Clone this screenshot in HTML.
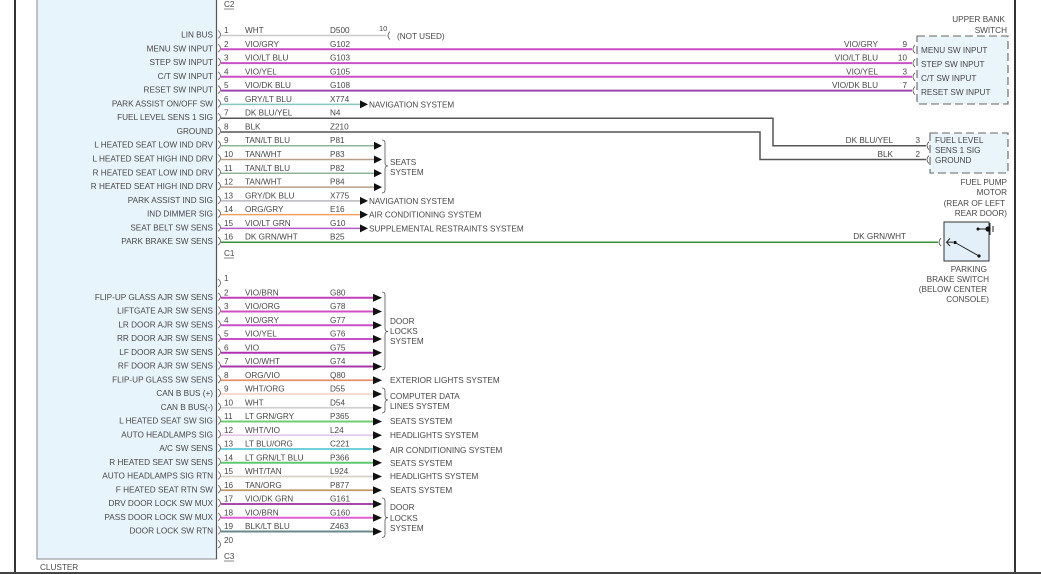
<!DOCTYPE html>
<html><head><meta charset="utf-8"><style>
html,body{margin:0;padding:0;background:#fff;}
svg{display:block;}
text{font-family:"Liberation Sans",Arial,sans-serif;font-size:8.2px;fill:#484848;}
.r{text-anchor:end;}
.w{fill:none;}
</style></head><body>
<svg width="1041" height="574" viewBox="0 0 1041 574" xmlns="http://www.w3.org/2000/svg">
<!-- page frame -->
<rect x="14" y="0" width="2" height="574" fill="#333"/>
<rect x="1014" y="0" width="2" height="574" fill="#333"/>
<rect x="0" y="572" width="1041" height="2" fill="#444"/>
<!-- cluster box -->
<rect x="37" y="-2" width="179.5" height="561" fill="#e8f4fc" stroke="#8a8a8a" stroke-width="1"/>
<line x1="216.5" y1="0" x2="216.5" y2="559" stroke="#555" stroke-width="1.2"/>
<text x="40" y="570">CLUSTER</text>
<text x="224" y="7">C2</text><line x1="224" y1="9" x2="234" y2="9" stroke="#555" stroke-width="0.7"/>
<text x="224" y="256">C1</text><line x1="224" y1="258" x2="234" y2="258" stroke="#555" stroke-width="0.7"/>
<text x="224" y="559">C3</text><line x1="224" y1="561" x2="234" y2="561" stroke="#555" stroke-width="0.7"/>

<!-- TOP WIRES -->
<g class="w" stroke-linecap="butt">
<path d="M221,35.5H386" stroke="#c8c8c8" stroke-width="1.5"/>
<path d="M221,49.3H912" stroke="#c94fc6" stroke-width="2"/>
<path d="M221,63.1H912" stroke="#c94fc6" stroke-width="2"/>
<path d="M221,76.8H912" stroke="#c94fc6" stroke-width="2"/>
<path d="M221,90.6H912" stroke="#9b4aaa" stroke-width="2"/>
<path d="M221,104.4H360" stroke="#84c8c0" stroke-width="1.5"/>
<path d="M221,118.2H773V145.7H926" stroke="#555" stroke-width="1.5"/>
<path d="M221,132H760V159.5H926" stroke="#555" stroke-width="1.5"/>
<path d="M221,145.7H374" stroke="#8fb49a" stroke-width="1.5"/>
<path d="M221,159.5H374" stroke="#b8a088" stroke-width="1.5"/>
<path d="M221,173.3H374" stroke="#8fb49a" stroke-width="1.5"/>
<path d="M221,187.1H374" stroke="#b8a088" stroke-width="1.5"/>
<path d="M221,200.9H360" stroke="#b8b8c0" stroke-width="1.5"/>
<path d="M221,214.6H360" stroke="#f0a460" stroke-width="1.5"/>
<path d="M221,228.4H360" stroke="#b05cc0" stroke-width="1.5"/>
<path d="M221,242.2H938" stroke="#3c8c3c" stroke-width="1.5"/>
</g>
<!-- left connector marks top -->
<g class="w" stroke="#555" stroke-width="0.8">
<path d="M218,30.5Q223,34.5 218,38.5"/><path d="M218,44.3Q223,48.3 218,52.3"/><path d="M218,58.1Q223,62.1 218,66.1"/><path d="M218,71.8Q223,75.8 218,79.8"/><path d="M218,85.6Q223,89.6 218,93.6"/><path d="M218,99.4Q223,103.4 218,107.4"/><path d="M218,113.2Q223,117.2 218,121.2"/><path d="M218,127Q223,131 218,135"/><path d="M218,140.7Q223,144.7 218,148.7"/><path d="M218,154.5Q223,158.5 218,162.5"/><path d="M218,168.3Q223,172.3 218,176.3"/><path d="M218,182.1Q223,186.1 218,190.1"/><path d="M218,195.9Q223,199.9 218,203.9"/><path d="M218,209.6Q223,213.6 218,217.6"/><path d="M218,223.4Q223,227.4 218,231.4"/><path d="M218,237.2Q223,241.2 218,245.2"/>
<path d="M390,31.5Q386,35.5 390,39.5"/>
<path d="M915,45.3Q911,49.3 915,53.3"/><path d="M915,59.1Q911,63.1 915,67.1"/><path d="M915,72.8Q911,76.8 915,80.8"/><path d="M915,86.6Q911,90.6 915,94.6"/>
<path d="M929,141.7Q925,145.7 929,149.7"/><path d="M929,155.5Q925,159.5 929,163.5"/>
<path d="M941,238.2Q937,242.2 941,246.2"/>
</g>
<!-- top arrows -->
<g fill="#111">
<polygon points="360,100.4 368,104.4 360,108.4"/>
<polygon points="374,141.7 382,145.7 374,149.7"/>
<polygon points="374,155.5 382,159.5 374,163.5"/>
<polygon points="374,169.3 382,173.3 374,177.3"/>
<polygon points="374,183.1 382,187.1 374,191.1"/>
<polygon points="360,196.9 368,200.9 360,204.9"/>
<polygon points="360,210.6 368,214.6 360,218.6"/>
<polygon points="360,224.4 368,228.4 360,232.4"/>
</g>
<path class="w" stroke="#555" stroke-width="0.8" d="M382,140Q385,140 385,143L385,163Q385,166 388,166Q385,166 385,169L385,190Q385,193 382,193"/>

<!-- top left labels -->
<g class="r">
<text x="213" y="37.5">LIN BUS</text>
<text x="213" y="51.3">MENU SW INPUT</text>
<text x="213" y="65.1">STEP SW INPUT</text>
<text x="213" y="78.8">C/T SW INPUT</text>
<text x="213" y="92.6">RESET SW INPUT</text>
<text x="213" y="106.4">PARK ASSIST ON/OFF SW</text>
<text x="213" y="120.2">FUEL LEVEL SENS 1 SIG</text>
<text x="213" y="134">GROUND</text>
<text x="213" y="147.7">L HEATED SEAT LOW IND DRV</text>
<text x="213" y="161.5">L HEATED SEAT HIGH IND DRV</text>
<text x="213" y="175.3">R HEATED SEAT LOW IND DRV</text>
<text x="213" y="189.1">R HEATED SEAT HIGH IND DRV</text>
<text x="213" y="202.9">PARK ASSIST IND SIG</text>
<text x="213" y="216.6">IND DIMMER SIG</text>
<text x="213" y="230.4">SEAT BELT SW SENS</text>
<text x="213" y="244.2">PARK BRAKE SW SENS</text>
</g>
<!-- top pin numbers / colors / ids -->
<g>
<text x="224" y="33">1</text><text x="245" y="33">WHT</text><text x="330" y="33">D500</text>
<text x="224" y="46.8">2</text><text x="245" y="46.8">VIO/GRY</text><text x="330" y="46.8">G102</text>
<text x="224" y="60.6">3</text><text x="245" y="60.6">VIO/LT BLU</text><text x="330" y="60.6">G103</text>
<text x="224" y="74.3">4</text><text x="245" y="74.3">VIO/YEL</text><text x="330" y="74.3">G105</text>
<text x="224" y="88.1">5</text><text x="245" y="88.1">VIO/DK BLU</text><text x="330" y="88.1">G108</text>
<text x="224" y="101.9">6</text><text x="245" y="101.9">GRY/LT BLU</text><text x="330" y="101.9">X774</text>
<text x="224" y="115.7">7</text><text x="245" y="115.7">DK BLU/YEL</text><text x="330" y="115.7">N4</text>
<text x="224" y="129.5">8</text><text x="245" y="129.5">BLK</text><text x="330" y="129.5">Z210</text>
<text x="224" y="143.2">9</text><text x="245" y="143.2">TAN/LT BLU</text><text x="330" y="143.2">P81</text>
<text x="224" y="157">10</text><text x="245" y="157">TAN/WHT</text><text x="330" y="157">P83</text>
<text x="224" y="170.8">11</text><text x="245" y="170.8">TAN/LT BLU</text><text x="330" y="170.8">P82</text>
<text x="224" y="184.6">12</text><text x="245" y="184.6">TAN/WHT</text><text x="330" y="184.6">P84</text>
<text x="224" y="198.4">13</text><text x="245" y="198.4">GRY/DK BLU</text><text x="330" y="198.4">X775</text>
<text x="224" y="212.1">14</text><text x="245" y="212.1">ORG/GRY</text><text x="330" y="212.1">E16</text>
<text x="224" y="225.9">15</text><text x="245" y="225.9">VIO/LT GRN</text><text x="330" y="225.9">G10</text>
<text x="224" y="239.7">16</text><text x="245" y="239.7">DK GRN/WHT</text><text x="330" y="239.7">B25</text>
</g>
<text x="379" y="31" style="font-size:7.5px">10</text>
<text x="397" y="39">(NOT USED)</text>
<text x="369" y="107.4">NAVIGATION SYSTEM</text>
<text x="390" y="165">SEATS</text>
<text x="390" y="175">SYSTEM</text>
<text x="369" y="203.9">NAVIGATION SYSTEM</text>
<text x="369" y="217.6">AIR CONDITIONING SYSTEM</text>
<text x="369" y="231.4">SUPPLEMENTAL RESTRAINTS SYSTEM</text>

<!-- upper bank switch -->
<text class="r" x="1005" y="22">UPPER BANK</text>
<text class="r" x="1007" y="33">SWITCH</text>
<rect x="917" y="36" width="91" height="68" fill="#e9f4fb" stroke="#666" stroke-width="1.1" stroke-dasharray="8 4"/>
<text x="921" y="53">MENU SW INPUT</text>
<text x="921" y="67">STEP SW INPUT</text>
<text x="921" y="81">C/T SW INPUT</text>
<text x="921" y="95">RESET SW INPUT</text>
<g class="r">
<text x="878" y="46.8">VIO/GRY</text><text x="907" y="46.8">9</text>
<text x="878" y="60.6">VIO/LT BLU</text><text x="907" y="60.6">10</text>
<text x="878" y="74.3">VIO/YEL</text><text x="907" y="74.3">3</text>
<text x="878" y="88.1">VIO/DK BLU</text><text x="907" y="88.1">7</text>
<text x="893" y="143">DK BLU/YEL</text><text x="920" y="143">3</text>
<text x="893" y="157">BLK</text><text x="920" y="157">2</text>
<text x="906" y="239">DK GRN/WHT</text>
</g>
<!-- fuel pump -->
<rect x="930" y="133" width="78" height="40" fill="#e9f4fb" stroke="#666" stroke-width="1.1" stroke-dasharray="8 4"/>
<text x="935" y="143">FUEL LEVEL</text>
<text x="935" y="153">SENS 1 SIG</text>
<text x="935" y="163">GROUND</text>
<g class="r">
<text x="1007" y="185">FUEL PUMP</text>
<text x="1007" y="195">MOTOR</text>
<text x="1005" y="206">(REAR OF LEFT</text>
<text x="1007" y="216">REAR DOOR)</text>
</g>
<!-- parking brake switch -->
<rect x="944" y="222" width="45" height="39" fill="#e3f0fa" stroke="#333" stroke-width="1"/>
<g stroke="#222" stroke-width="1" fill="none">
<path d="M950,238.5L946.5,242.2L950,246"/>
<line x1="946.5" y1="242.2" x2="953" y2="242.2"/>
<line x1="955" y1="242.5" x2="979" y2="256"/>
<line x1="978" y1="229" x2="988" y2="229"/>
<line x1="990" y1="223" x2="990" y2="235"/>
<line x1="993" y1="226" x2="993" y2="232"/>
</g>
<g fill="#111">
<circle cx="955" cy="242.5" r="1.6"/>
<circle cx="979" cy="256" r="1.6"/>
<circle cx="978" cy="229" r="1.5"/>
<circle cx="988" cy="229" r="2.6"/>
</g>
<g class="r">
<text x="987" y="272">PARKING</text>
<text x="989" y="282">BRAKE SWITCH</text>
<text x="987" y="292">(BELOW CENTER</text>
<text x="989" y="302">CONSOLE)</text>
</g>

<!-- BOTTOM WIRES -->
<g class="w">
<path d="M221,297.75H373" stroke="#c040b8" stroke-width="2"/>
<path d="M221,311.5H373" stroke="#d050c0" stroke-width="2"/>
<path d="M221,325.25H373" stroke="#c850c8" stroke-width="2"/>
<path d="M221,339H373" stroke="#c850c8" stroke-width="2"/>
<path d="M221,352.75H373" stroke="#b030b0" stroke-width="2"/>
<path d="M221,366.5H373" stroke="#a838a8" stroke-width="2"/>
<path d="M221,380.25H373" stroke="#e8906a" stroke-width="1.8"/>
<path d="M221,394H373" stroke="#f0d8c8" stroke-width="1.8"/>
<path d="M221,407.75H373" stroke="#d0d0d0" stroke-width="1.8"/>
<path d="M221,421.5H373" stroke="#70cc70" stroke-width="2"/>
<path d="M221,435.25H373" stroke="#e8c8e8" stroke-width="1.8"/>
<path d="M221,449H373" stroke="#70d0dc" stroke-width="2"/>
<path d="M221,462.75H373" stroke="#60c870" stroke-width="2"/>
<path d="M221,476.5H373" stroke="#d8d0c8" stroke-width="1.8"/>
<path d="M221,490.25H373" stroke="#c09868" stroke-width="1.8"/>
<path d="M221,504H373" stroke="#a848a8" stroke-width="2"/>
<path d="M221,517.75H373" stroke="#e060d0" stroke-width="2"/>
<path d="M221,531.5H373" stroke="#6a8a8a" stroke-width="2"/>
</g>
<g class="w" stroke="#555" stroke-width="0.8">
<path d="M218,279Q223,283 218,287"/><path d="M218,292.75Q223,296.75 218,300.75"/><path d="M218,306.5Q223,310.5 218,314.5"/><path d="M218,320.25Q223,324.25 218,328.25"/><path d="M218,334Q223,338 218,342"/><path d="M218,347.75Q223,351.75 218,355.75"/><path d="M218,361.5Q223,365.5 218,369.5"/><path d="M218,375.25Q223,379.25 218,383.25"/><path d="M218,389Q223,393 218,397"/><path d="M218,402.75Q223,406.75 218,410.75"/><path d="M218,416.5Q223,420.5 218,424.5"/><path d="M218,430.25Q223,434.25 218,438.25"/><path d="M218,444Q223,448 218,452"/><path d="M218,457.75Q223,461.75 218,465.75"/><path d="M218,471.5Q223,475.5 218,479.5"/><path d="M218,485.25Q223,489.25 218,493.25"/><path d="M218,499Q223,503 218,507"/><path d="M218,512.75Q223,516.75 218,520.75"/><path d="M218,526.5Q223,530.5 218,534.5"/><path d="M218,540.25Q223,544.25 218,548.25"/>
<path d="M382,292Q385,292 385,295L385,328.5Q385,331.5 388,331.5Q385,331.5 385,334.5L385,367Q385,370 382,370"/>
<path d="M382,388Q385,388 385,391L385,397Q385,400 388,400Q385,400 385,403L385,410Q385,413 382,413"/>
<path d="M382,498Q385,498 385,501L385,514.7Q385,517.7 388,517.7Q385,517.7 385,520.7L385,534.5Q385,537.5 382,537.5"/>
</g>
<g fill="#111">
<polygon points="373,293.75 382,297.75 373,301.75"/>
<polygon points="373,307.5 382,311.5 373,315.5"/>
<polygon points="373,321.25 382,325.25 373,329.25"/>
<polygon points="373,335 382,339 373,343"/>
<polygon points="373,348.75 382,352.75 373,356.75"/>
<polygon points="373,362.5 382,366.5 373,370.5"/>
<polygon points="373,376.25 382,380.25 373,384.25"/>
<polygon points="373,390 382,394 373,398"/>
<polygon points="373,403.75 382,407.75 373,411.75"/>
<polygon points="373,417.5 382,421.5 373,425.5"/>
<polygon points="373,431.25 382,435.25 373,439.25"/>
<polygon points="373,445 382,449 373,453"/>
<polygon points="373,458.75 382,462.75 373,466.75"/>
<polygon points="373,472.5 382,476.5 373,480.5"/>
<polygon points="373,486.25 382,490.25 373,494.25"/>
<polygon points="373,500 382,504 373,508"/>
<polygon points="373,513.75 382,517.75 373,521.75"/>
<polygon points="373,527.5 382,531.5 373,535.5"/>
</g>
<g class="r">
<text x="213" y="299.75">FLIP-UP GLASS AJR SW SENS</text>
<text x="213" y="313.5">LIFTGATE AJR SW SENS</text>
<text x="213" y="327.25">LR DOOR AJR SW SENS</text>
<text x="213" y="341">RR DOOR AJR SW SENS</text>
<text x="213" y="354.75">LF DOOR AJR SW SENS</text>
<text x="213" y="368.5">RF DOOR AJR SW SENS</text>
<text x="213" y="382.25">FLIP-UP GLASS SW SENS</text>
<text x="213" y="396">CAN B BUS (+)</text>
<text x="213" y="409.75">CAN B BUS(-)</text>
<text x="213" y="423.5">L HEATED SEAT SW SIG</text>
<text x="213" y="437.25">AUTO HEADLAMPS SIG</text>
<text x="213" y="451">A/C SW SENS</text>
<text x="213" y="464.75">R HEATED SEAT SW SENS</text>
<text x="213" y="478.5">AUTO HEADLAMPS SIG RTN</text>
<text x="213" y="492.25">F HEATED SEAT RTN SW</text>
<text x="213" y="506">DRV DOOR LOCK SW MUX</text>
<text x="213" y="519.75">PASS DOOR LOCK SW MUX</text>
<text x="213" y="533.5">DOOR LOCK SW RTN</text>
</g>
<g>
<text x="224" y="281">1</text>
<text x="224" y="295.25">2</text><text x="245" y="295.25">VIO/BRN</text><text x="330" y="295.25">G80</text>
<text x="224" y="309">3</text><text x="245" y="309">VIO/ORG</text><text x="330" y="309">G78</text>
<text x="224" y="322.75">4</text><text x="245" y="322.75">VIO/GRY</text><text x="330" y="322.75">G77</text>
<text x="224" y="336.5">5</text><text x="245" y="336.5">VIO/YEL</text><text x="330" y="336.5">G76</text>
<text x="224" y="350.25">6</text><text x="245" y="350.25">VIO</text><text x="330" y="350.25">G75</text>
<text x="224" y="364">7</text><text x="245" y="364">VIO/WHT</text><text x="330" y="364">G74</text>
<text x="224" y="377.75">8</text><text x="245" y="377.75">ORG/VIO</text><text x="330" y="377.75">Q80</text>
<text x="224" y="391.5">9</text><text x="245" y="391.5">WHT/ORG</text><text x="330" y="391.5">D55</text>
<text x="224" y="405.25">10</text><text x="245" y="405.25">WHT</text><text x="330" y="405.25">D54</text>
<text x="224" y="419">11</text><text x="245" y="419">LT GRN/GRY</text><text x="330" y="419">P365</text>
<text x="224" y="432.75">12</text><text x="245" y="432.75">WHT/VIO</text><text x="330" y="432.75">L24</text>
<text x="224" y="446.5">13</text><text x="245" y="446.5">LT BLU/ORG</text><text x="330" y="446.5">C221</text>
<text x="224" y="460.25">14</text><text x="245" y="460.25">LT GRN/LT BLU</text><text x="330" y="460.25">P366</text>
<text x="224" y="474">15</text><text x="245" y="474">WHT/TAN</text><text x="330" y="474">L924</text>
<text x="224" y="487.75">16</text><text x="245" y="487.75">TAN/ORG</text><text x="330" y="487.75">P877</text>
<text x="224" y="501.5">17</text><text x="245" y="501.5">VIO/DK GRN</text><text x="330" y="501.5">G161</text>
<text x="224" y="515.25">18</text><text x="245" y="515.25">VIO/BRN</text><text x="330" y="515.25">G160</text>
<text x="224" y="529">19</text><text x="245" y="529">BLK/LT BLU</text><text x="330" y="529">Z463</text>
<text x="224" y="543">20</text>
</g>
<text x="390" y="324">DOOR</text>
<text x="390" y="334">LOCKS</text>
<text x="390" y="344">SYSTEM</text>
<text x="390" y="383">EXTERIOR LIGHTS SYSTEM</text>
<text x="390" y="399">COMPUTER DATA</text>
<text x="390" y="409">LINES SYSTEM</text>
<text x="390" y="424">SEATS SYSTEM</text>
<text x="390" y="438">HEADLIGHTS SYSTEM</text>
<text x="390" y="453">AIR CONDITIONING SYSTEM</text>
<text x="390" y="466">SEATS SYSTEM</text>
<text x="390" y="479">HEADLIGHTS SYSTEM</text>
<text x="390" y="493">SEATS SYSTEM</text>
<text x="390" y="510">DOOR</text>
<text x="390" y="521">LOCKS</text>
<text x="390" y="531">SYSTEM</text>
</svg>
</body></html>
